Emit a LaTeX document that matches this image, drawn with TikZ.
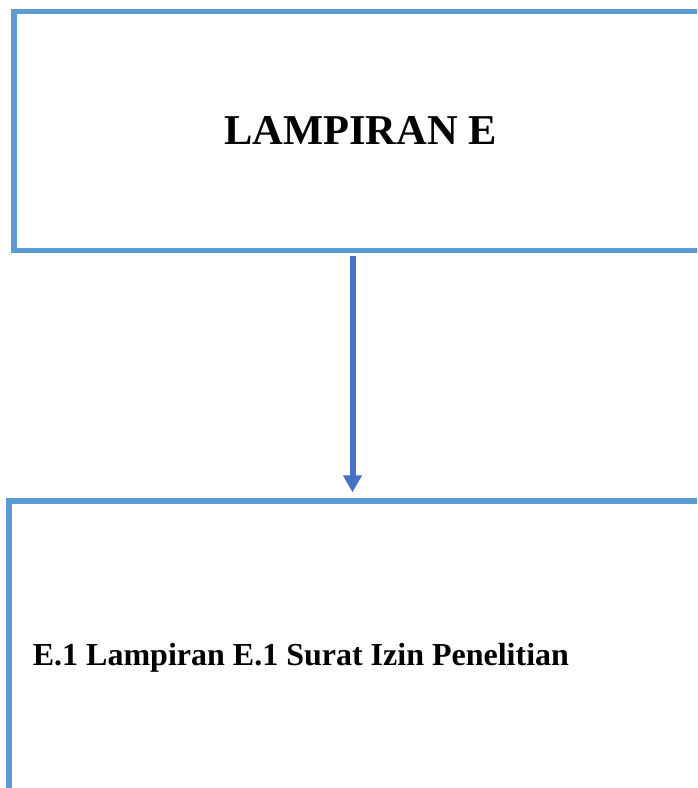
\documentclass[tikz,border=0pt]{standalone}
\usepackage{fontspec}
\setmainfont{Liberation Serif}
\usetikzlibrary{arrows.meta}
\definecolor{boxblue}{HTML}{5B9BD5}
\definecolor{arrowblue}{HTML}{4472C4}
\tikzset{
  panel/.style={draw=boxblue, line width=5.5pt, rectangle, inner sep=0pt, outer sep=0pt, anchor=north west, minimum width=1000pt},
  flow/.style={draw=arrowblue, line width=6pt, -{Triangle[length=17pt,width=18pt]}, arrowblue},
  title/.style={font=\fontsize{42.5}{50}\selectfont\bfseries, inner sep=0pt},
  item/.style={font=\fontsize{32}{38}\selectfont\bfseries, inner sep=0pt}
}
\begin{document}
\begin{tikzpicture}[x=1pt,y=1pt]
\useasboundingbox (0,0) rectangle (697,-788);
\clip (0,0) rectangle (697,-788);
\node[panel, minimum height=239.2pt] (top) at (13.8,-11.3) {};
\node[panel, minimum height=500pt] (bottom) at (9,-501) {};
\node[title, anchor=base] (ttl) at (360.4,-144.3) {LAMPIRAN E};
\node[item, anchor=base west] (itm) at (32.7,-665) {E.1 Lampiran E.1 Surat Izin Penelitian};
\coordinate (ax) at (352.5,0);
\draw[flow, shorten <=5.5pt, shorten >=8.7pt] (top.south -| ax) -- (bottom.north -| ax);
\end{tikzpicture}
\end{document}
